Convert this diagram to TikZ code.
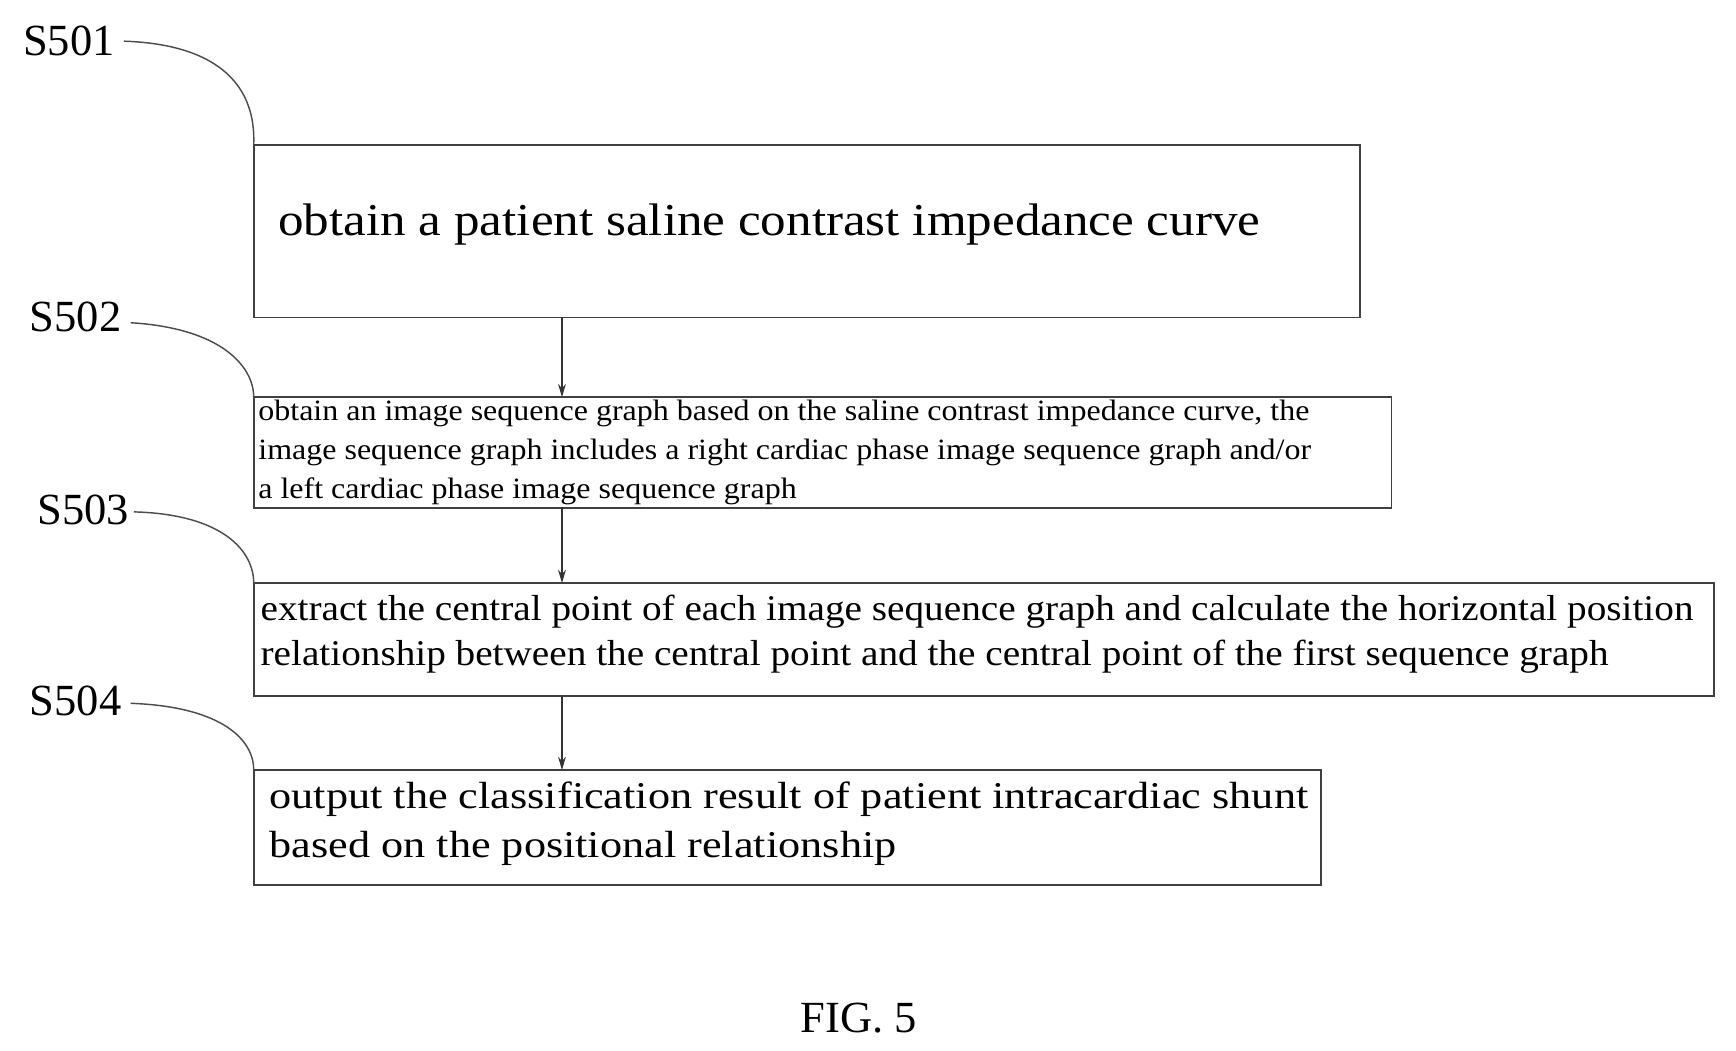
\documentclass[tikz,border=0pt]{standalone}
\usepackage{fontspec}
\usetikzlibrary{arrows.meta}
\setmainfont{Liberation Serif}
\newfontfamily\wa[FakeStretch=1.12]{Liberation Serif}
\newfontfamily\wb[FakeStretch=1.085]{Liberation Serif}
\newfontfamily\wc[FakeStretch=1.17]{Liberation Serif}
\begin{document}
\begin{tikzpicture}[x=1pt,y=-1pt,
 box/.style={draw=black!75,line width=1.6pt,fill=none},
 lbl/.style={font=\fontsize{40}{40}\selectfont,inner sep=0pt},
 txt/.style={anchor=west,align=left,inner sep=0pt},
 lead/.style={draw=black!70,line width=1.3pt},
 arr/.style={draw=black!80,line width=1.3pt,-{Stealth[length=12pt,width=7pt]}}]
\useasboundingbox (0,0) rectangle (1560,943.6);
\node[draw=none,anchor=north west,minimum width=994,minimum height=155,inner sep=0] (b1) at (228,130) {};
\draw[box] (b1.north west) rectangle (b1.south east);
\node[txt,font=\wa\fontsize{41}{41}\selectfont] at (250,202) {obtain a patient saline contrast impedance curve};
\node[draw=none,anchor=north west,minimum width=1022,minimum height=99,inner sep=0] (b2) at (228,357) {};
\draw[box] (b2.north west) rectangle (b2.south east);
\node[txt,font=\wb\fontsize{26.5}{35}\selectfont,anchor=north west] at (232,359) {obtain an image sequence graph based on the saline contrast impedance curve, the\\image sequence graph includes a right cardiac phase image sequence graph and/or\\a left cardiac phase image sequence graph};
\node[draw=none,anchor=north west,minimum width=1312,minimum height=101,inner sep=0] (b3) at (228,524) {};
\draw[box] (b3.north west) rectangle (b3.south east);
\node[txt,font=\wb\fontsize{32.5}{40}\selectfont] at (234,570) {extract the central point of each image sequence graph and calculate the horizontal position\\relationship between the central point and the central point of the first sequence graph};
\node[draw=none,anchor=north west,minimum width=959,minimum height=103,inner sep=0] (b4) at (228,692) {};
\draw[box] (b4.north west) rectangle (b4.south east);
\node[txt,font=\wc\fontsize{34}{44}\selectfont] at (242,740) {output the classification result of patient intracardiac shunt\\based on the positional relationship};
\node[lbl] (s1) at (62,37) {S501};
\node[lbl] (s2) at (68,285) {S502};
\node[lbl] (s3) at (75,458) {S503};
\node[lbl] (s4) at (68,630) {S504};
\draw[lead] (s1.east)++(8,0) .. controls (200,40) and (230,80) .. (b1.north west);
\draw[lead] (s2.east)++(8,5) .. controls (200,295) and (228,330) .. (b2.north west);
\draw[lead] (s3.east)++(4,2) .. controls (200,462) and (228,495) .. (b3.north west);
\draw[lead] (s4.east)++(8,2) .. controls (200,635) and (228,665) .. (b4.north west);
\coordinate (a1) at (505,285); \coordinate (a2) at (505,456); \coordinate (a3) at (505,625);
\draw[arr] (a1) -- (a1 |- b2.north);
\draw[arr] (a2) -- (a2 |- b3.north);
\draw[arr] (a3) -- (a3 |- b4.north);
\node[lbl] (fig) at (772,915) {FIG. 5};
\end{tikzpicture}
\end{document}
